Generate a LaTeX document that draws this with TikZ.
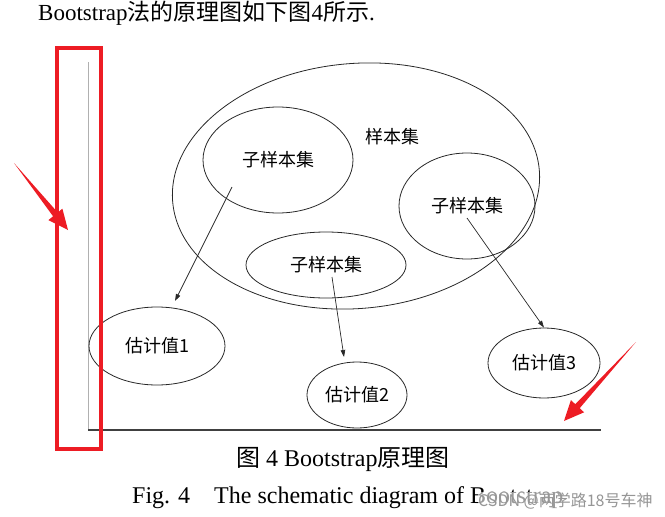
\documentclass[tikz,border=0pt]{standalone}
\usepackage{fontspec}
\setmainfont{Liberation Serif}
\newfontfamily\cjk{Noto Sans CJK SC}
\usetikzlibrary{shapes.geometric,arrows.meta}
\definecolor{redmark}{RGB}{237,28,36}
\definecolor{inkc}{RGB}{40,40,40}
\definecolor{axisgray}{RGB}{176,176,176}
\definecolor{axisdark}{RGB}{64,64,64}
\definecolor{wmgray}{RGB}{150,150,150}
\tikzset{
  ell/.style={ellipse, draw=inkc, line width=0.8pt, inner sep=0pt, font=\cjk\fontsize{18}{20}\selectfont},
  lbl/.style={inner sep=0pt, font=\cjk\fontsize{18}{20}\selectfont},
  arr/.style={draw=inkc, line width=0.7pt, -{Triangle[length=7pt,width=4.5pt]}},
  txt/.style={inner sep=0pt, anchor=base west},
  redshape/.style={fill=redmark, draw=none}
}
\begin{document}
\begin{tikzpicture}[x=1pt,y=-1pt]
\useasboundingbox (0,0) rectangle (665,517);
% top line of text
\node[txt, font=\fontsize{23}{26}\selectfont] (top) at (38,20) {Bootstrap{\cjk 法的原理图如下图}4{\cjk 所示}.};
% axes
\draw[axisgray, line width=1pt] (88.5,62) -- (88.5,430);
\draw[axisdark, line width=1.2pt] (88,430) -- (601,430);
% big sample set ellipse
\node[ell, minimum width=368pt, minimum height=245pt, rotate=5] (big) at (356,186) {};
\node[lbl] (biglbl) at (392,137) {样本集};
% sub-sample sets
\node[ell, minimum width=150pt, minimum height=106pt] (s1) at (278,160) {子样本集};
\node[ell, minimum width=136pt, minimum height=106pt] (s3) at (467,206) {子样本集};
\node[ell, minimum width=160pt, minimum height=66pt] (s2) at (326,265) {子样本集};
% estimates
\node[ell, minimum width=136pt, minimum height=78pt] (e1) at (157,346) {估计值1};
\node[ell, minimum width=100pt, minimum height=66pt] (e2) at (357,395) {估计值2};
\node[ell, minimum width=112pt, minimum height=70pt] (e3) at (544,363) {估计值3};
% connector start / end points
\coordinate (c1) at (232,187);
\coordinate (c2) at (332,277);
\coordinate (c3) at (467,218);
\coordinate (t1) at (175,301);
\coordinate (t2) at (344,357);
\draw[arr] (c1) -- (t1);
\draw[arr] (c2) -- (t2);
\draw[arr] (c3) -- (e3.north);
% captions
\node[txt, font=\fontsize{24}{28}\selectfont] (cap1) at (236,466) {{\cjk 图} 4 Bootstrap{\cjk 原理图}};
\node[txt, font=\fontsize{24}{28}\selectfont] (cap2) at (132,503) {Fig. 4\quad The schematic diagram of Bootstrap};
\node[txt, font=\cjk\fontsize{16}{18}\selectfont, text=wmgray, fill=white, fill opacity=0.6, text opacity=1] (wm) at (478,506) {CSDN @两学路18号车神};
% red highlight rectangle and arrows
\draw[redmark, line width=4pt] (57,48) rectangle (101,449);
\fill[redshape] (14,163) -- (57.7,212.5) -- (62.4,208.7) -- (68,230) -- (48.4,220.1) -- (53.1,216.3) -- cycle;
\fill[redshape] (636,342) -- (579.7,408.2) -- (584.1,412.3) -- (564,421) -- (570.9,400.1) -- (575.3,404.2) -- cycle;
\end{tikzpicture}
\end{document}
